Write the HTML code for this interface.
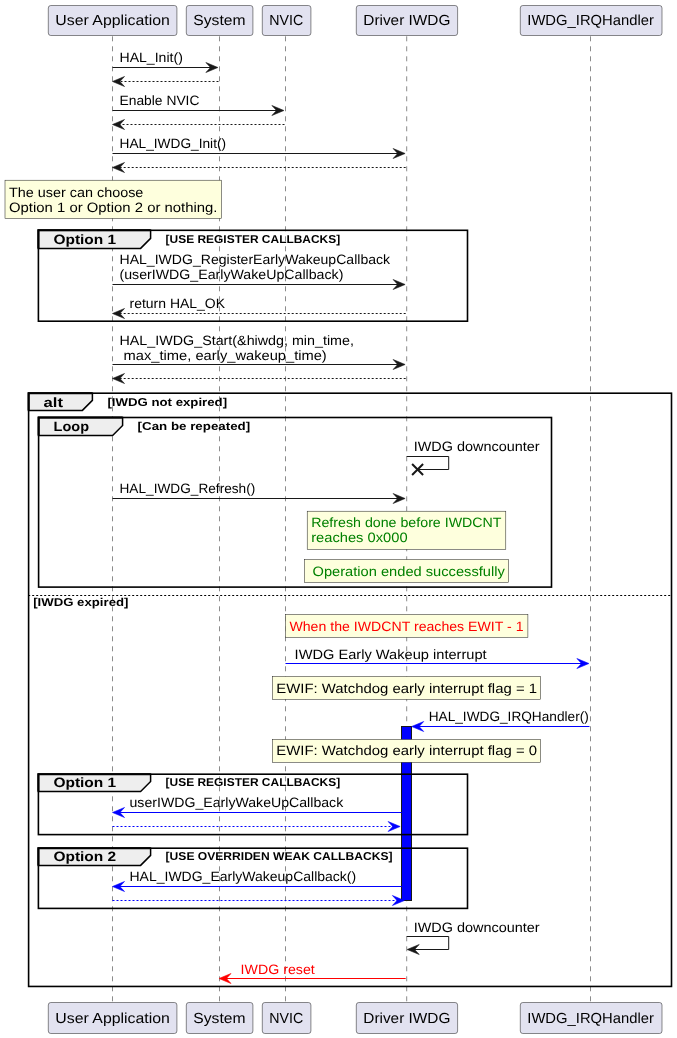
<!DOCTYPE html>
<html><head><meta charset="utf-8"><title>IWDG sequence</title>
<style>html,body{margin:0;padding:0;background:#fff}svg{display:block;will-change:transform}</style>
</head><body>
<svg width="677" height="1038" viewBox="0 0 677 1038" font-family="'Liberation Sans', sans-serif" text-rendering="geometricPrecision">
<rect width="677" height="1038" fill="#fff"/>
<line x1="112.5" y1="36.3" x2="112.5" y2="1002.3" stroke="#181818" stroke-width="0.5" stroke-dasharray="5,5"/>
<line x1="219.5" y1="36.3" x2="219.5" y2="1002.3" stroke="#181818" stroke-width="0.5" stroke-dasharray="5,5"/>
<line x1="285.5" y1="36.3" x2="285.5" y2="1002.3" stroke="#181818" stroke-width="0.5" stroke-dasharray="5,5"/>
<line x1="406.7" y1="36.3" x2="406.7" y2="1002.3" stroke="#181818" stroke-width="0.5" stroke-dasharray="5,5"/>
<line x1="590.5" y1="36.3" x2="590.5" y2="1002.3" stroke="#181818" stroke-width="0.5" stroke-dasharray="5,5"/>
<rect x="401.5" y="726.5" width="10" height="174" fill="#0000FF" stroke="#181818" stroke-width="1"/>
<rect x="48.3" y="5.5" width="128.60" height="30" rx="2.5" ry="2.5" fill="#E2E2F0" stroke="#181818" stroke-width="0.5"/>
<text x="55.30" y="25.00" font-size="14.56" fill="#000" textLength="114.58" lengthAdjust="spacingAndGlyphs">User Application</text>
<rect x="48.3" y="1002.5" width="128.60" height="31" rx="2.5" ry="2.5" fill="#E2E2F0" stroke="#181818" stroke-width="0.5"/>
<text x="55.30" y="1023.00" font-size="14.56" fill="#000" textLength="114.58" lengthAdjust="spacingAndGlyphs">User Application</text>
<rect x="186.3" y="5.5" width="66.60" height="30" rx="2.5" ry="2.5" fill="#E2E2F0" stroke="#181818" stroke-width="0.5"/>
<text x="193.30" y="25.00" font-size="14.56" fill="#000" textLength="52.21" lengthAdjust="spacingAndGlyphs">System</text>
<rect x="186.3" y="1002.5" width="66.60" height="31" rx="2.5" ry="2.5" fill="#E2E2F0" stroke="#181818" stroke-width="0.5"/>
<text x="193.30" y="1023.00" font-size="14.56" fill="#000" textLength="52.21" lengthAdjust="spacingAndGlyphs">System</text>
<rect x="262.3" y="5.5" width="48.60" height="30" rx="2.5" ry="2.5" fill="#E2E2F0" stroke="#181818" stroke-width="0.5"/>
<text x="269.30" y="25.00" font-size="14.56" fill="#000" textLength="33.95" lengthAdjust="spacingAndGlyphs">NVIC</text>
<rect x="262.3" y="1002.5" width="48.60" height="31" rx="2.5" ry="2.5" fill="#E2E2F0" stroke="#181818" stroke-width="0.5"/>
<text x="269.30" y="1023.00" font-size="14.56" fill="#000" textLength="33.95" lengthAdjust="spacingAndGlyphs">NVIC</text>
<rect x="356.3" y="5.5" width="101.30" height="30" rx="2.5" ry="2.5" fill="#E2E2F0" stroke="#181818" stroke-width="0.5"/>
<text x="363.30" y="25.00" font-size="14.56" fill="#000" textLength="87.13" lengthAdjust="spacingAndGlyphs">Driver IWDG</text>
<rect x="356.3" y="1002.5" width="101.30" height="31" rx="2.5" ry="2.5" fill="#E2E2F0" stroke="#181818" stroke-width="0.5"/>
<text x="363.30" y="1023.00" font-size="14.56" fill="#000" textLength="87.13" lengthAdjust="spacingAndGlyphs">Driver IWDG</text>
<rect x="520.3" y="5.5" width="141.70" height="30" rx="2.5" ry="2.5" fill="#E2E2F0" stroke="#181818" stroke-width="0.5"/>
<text x="527.30" y="25.00" font-size="14.56" fill="#000" textLength="126.60" lengthAdjust="spacingAndGlyphs">IWDG_IRQHandler</text>
<rect x="520.3" y="1002.5" width="141.70" height="31" rx="2.5" ry="2.5" fill="#E2E2F0" stroke="#181818" stroke-width="0.5"/>
<text x="527.30" y="1023.00" font-size="14.56" fill="#000" textLength="126.60" lengthAdjust="spacingAndGlyphs">IWDG_IRQHandler</text>
<text x="119.50" y="62.36" font-size="13.52" fill="#000" textLength="63.34" lengthAdjust="spacingAndGlyphs">HAL_Init()</text>
<polygon points="205.9,62.5 217.9,67.5 205.9,72.5 210.5,67.5" fill="#181818" stroke="#181818" stroke-width="0.6"/>
<line x1="112.5" y1="67.5" x2="213.9" y2="67.5" stroke="#181818" stroke-width="1"/>
<polygon points="124.5,76.5 112.5,81.5 124.5,86.5 119.9,81.5" fill="#181818" stroke="#181818" stroke-width="0.6"/>
<line x1="218.5" y1="81.5" x2="116.5" y2="81.5" stroke="#181818" stroke-width="1" stroke-dasharray="2,2"/>
<text x="119.50" y="105.00" font-size="13.52" fill="#000" textLength="79.94" lengthAdjust="spacingAndGlyphs">Enable NVIC</text>
<polygon points="271.9,105.5 283.9,110.5 271.9,115.5 276.5,110.5" fill="#181818" stroke="#181818" stroke-width="0.6"/>
<line x1="112.5" y1="110.5" x2="279.9" y2="110.5" stroke="#181818" stroke-width="1"/>
<polygon points="124.5,119.5 112.5,124.5 124.5,129.5 119.9,124.5" fill="#181818" stroke="#181818" stroke-width="0.6"/>
<line x1="284.5" y1="124.5" x2="116.5" y2="124.5" stroke="#181818" stroke-width="1" stroke-dasharray="2,2"/>
<text x="119.50" y="148.40" font-size="13.52" fill="#000" textLength="106.61" lengthAdjust="spacingAndGlyphs">HAL_IWDG_Init()</text>
<polygon points="393.09999999999997,148.5 405.09999999999997,153.5 393.09999999999997,158.5 397.7,153.5" fill="#181818" stroke="#181818" stroke-width="0.6"/>
<line x1="112.5" y1="153.5" x2="401.09999999999997" y2="153.5" stroke="#181818" stroke-width="1"/>
<polygon points="124.5,162.5 112.5,167.5 124.5,172.5 119.9,167.5" fill="#181818" stroke="#181818" stroke-width="0.6"/>
<line x1="405.7" y1="167.5" x2="116.5" y2="167.5" stroke="#181818" stroke-width="1" stroke-dasharray="2,2"/>
<rect x="5" y="180.2" width="216.50" height="38.20" fill="#FEFFDD" stroke="#181818" stroke-width="0.5"/>
<text x="9.00" y="197.00" font-size="13.52" fill="#000" textLength="134.35" lengthAdjust="spacingAndGlyphs">The user can choose</text>
<text x="9.00" y="212.10" font-size="13.52" fill="#000" textLength="208.47" lengthAdjust="spacingAndGlyphs">Option 1 or Option 2 or nothing.</text>
<polygon points="38.4,230.3 150.6,230.3 150.6,238.40 140.6,248.4 38.4,248.4" fill="#EEEEEE" stroke="#000" stroke-width="1.5"/>
<rect x="38.4" y="230.3" width="429.10" height="90.90" fill="none" stroke="#000" stroke-width="1.6"/>
<path d="M38.4,248.4 V230.3 H150.6" fill="none" stroke="#000" stroke-width="2"/>
<text x="53.40" y="244.00" font-size="13.52" font-weight="bold" fill="#000" textLength="62.78" lengthAdjust="spacingAndGlyphs">Option 1</text>
<text x="165.60" y="243.10" font-size="11.44" font-weight="bold" fill="#000" textLength="174.62" lengthAdjust="spacingAndGlyphs">[USE REGISTER CALLBACKS]</text>
<text x="119.50" y="264.00" font-size="13.52" fill="#000" textLength="270.62" lengthAdjust="spacingAndGlyphs">HAL_IWDG_RegisterEarlyWakeupCallback</text>
<text x="119.50" y="279.20" font-size="13.52" fill="#000" textLength="223.88" lengthAdjust="spacingAndGlyphs">(userIWDG_EarlyWakeUpCallback)</text>
<polygon points="393.09999999999997,279.5 405.09999999999997,284.5 393.09999999999997,289.5 397.7,284.5" fill="#181818" stroke="#181818" stroke-width="0.6"/>
<line x1="112.5" y1="284.5" x2="401.09999999999997" y2="284.5" stroke="#181818" stroke-width="1"/>
<text x="129.50" y="308.00" font-size="13.52" fill="#000" textLength="95.56" lengthAdjust="spacingAndGlyphs">return HAL_OK</text>
<polygon points="124.5,308.5 112.5,313.5 124.5,318.5 119.9,313.5" fill="#181818" stroke="#181818" stroke-width="0.6"/>
<line x1="405.7" y1="313.5" x2="116.5" y2="313.5" stroke="#181818" stroke-width="1" stroke-dasharray="2,2"/>
<text x="119.50" y="345.00" font-size="13.52" fill="#000" textLength="234.42" lengthAdjust="spacingAndGlyphs">HAL_IWDG_Start(&amp;hiwdg, min_time,</text>
<text x="123.63" y="359.50" font-size="13.52" fill="#000" textLength="203.13" lengthAdjust="spacingAndGlyphs">max_time, early_wakeup_time)</text>
<polygon points="393.09999999999997,359.5 405.09999999999997,364.5 393.09999999999997,369.5 397.7,364.5" fill="#181818" stroke="#181818" stroke-width="0.6"/>
<line x1="112.5" y1="364.5" x2="401.09999999999997" y2="364.5" stroke="#181818" stroke-width="1"/>
<polygon points="124.5,373.5 112.5,378.5 124.5,383.5 119.9,378.5" fill="#181818" stroke="#181818" stroke-width="0.6"/>
<line x1="405.7" y1="378.5" x2="116.5" y2="378.5" stroke="#181818" stroke-width="1" stroke-dasharray="2,2"/>
<polygon points="28.6,393.2 92.4,393.2 92.4,400.40 82.4,410.4 28.6,410.4" fill="#EEEEEE" stroke="#000" stroke-width="1.5"/>
<rect x="28.6" y="393.2" width="642.90" height="593.25" fill="none" stroke="#000" stroke-width="1.6"/>
<path d="M28.6,410.4 V393.2 H92.4" fill="none" stroke="#000" stroke-width="2"/>
<text x="43.60" y="407.00" font-size="13.52" font-weight="bold" fill="#000" textLength="19.44" lengthAdjust="spacingAndGlyphs">alt</text>
<text x="107.40" y="406.10" font-size="11.44" font-weight="bold" fill="#000" textLength="119.71" lengthAdjust="spacingAndGlyphs">[IWDG not expired]</text>
<polygon points="38.6,417.5 122.6,417.5 122.6,425.50 112.6,435.5 38.6,435.5" fill="#EEEEEE" stroke="#000" stroke-width="1.5"/>
<rect x="38.6" y="417.5" width="512.90" height="169.60" fill="none" stroke="#000" stroke-width="1.6"/>
<path d="M38.6,435.5 V417.5 H122.6" fill="none" stroke="#000" stroke-width="2"/>
<text x="53.60" y="431.00" font-size="13.52" font-weight="bold" fill="#000" textLength="35.45" lengthAdjust="spacingAndGlyphs">Loop</text>
<text x="137.60" y="430.10" font-size="11.44" font-weight="bold" fill="#000" textLength="112.61" lengthAdjust="spacingAndGlyphs">[Can be repeated]</text>
<text x="413.70" y="450.60" font-size="13.52" fill="#000" textLength="126.00" lengthAdjust="spacingAndGlyphs">IWDG downcounter</text>
<path d="M406.7,456.5 H448.7 V469.5 H417.7" fill="none" stroke="#181818" stroke-width="1"/>
<path d="M412.09999999999997,464.0 l11,11 M412.09999999999997,475.0 l11,-11" fill="none" stroke="#181818" stroke-width="2"/>
<text x="119.50" y="493.30" font-size="13.52" fill="#000" textLength="135.79" lengthAdjust="spacingAndGlyphs">HAL_IWDG_Refresh()</text>
<polygon points="393.09999999999997,493.5 405.09999999999997,498.5 393.09999999999997,503.5 397.7,498.5" fill="#181818" stroke="#181818" stroke-width="0.6"/>
<line x1="112.5" y1="498.5" x2="401.09999999999997" y2="498.5" stroke="#181818" stroke-width="1"/>
<rect x="307.2" y="511.2" width="198.60" height="38.10" fill="#FEFFDD" stroke="#181818" stroke-width="0.5"/>
<text x="311.20" y="527.00" font-size="13.52" fill="#008000" textLength="190.37" lengthAdjust="spacingAndGlyphs">Refresh done before IWDCNT</text>
<text x="311.20" y="541.50" font-size="13.52" fill="#008000" textLength="96.38" lengthAdjust="spacingAndGlyphs">reaches 0x000</text>
<rect x="304.4" y="559.5" width="204.20" height="22.90" fill="#FEFFDD" stroke="#181818" stroke-width="0.5"/>
<text x="312.53" y="575.60" font-size="13.52" fill="#008000" textLength="192.28" lengthAdjust="spacingAndGlyphs">Operation ended successfully</text>
<line x1="28.2" y1="595.5" x2="671.5" y2="595.5" stroke="#000" stroke-width="1" stroke-dasharray="2,2"/>
<text x="33.20" y="605.60" font-size="11.44" font-weight="bold" fill="#000" textLength="95.23" lengthAdjust="spacingAndGlyphs">[IWDG expired]</text>
<rect x="285.4" y="614.4" width="242.50" height="23.00" fill="#FEFFDD" stroke="#181818" stroke-width="0.5"/>
<text x="289.40" y="631.00" font-size="13.52" fill="#FF0000" textLength="234.17" lengthAdjust="spacingAndGlyphs">When the IWDCNT reaches EWIT - 1</text>
<text x="294.63" y="659.30" font-size="13.52" fill="#000" textLength="192.06" lengthAdjust="spacingAndGlyphs">IWDG Early Wakeup interrupt</text>
<polygon points="576.9,658.5 588.9,663.5 576.9,668.5 581.5,663.5" fill="#0000FF" stroke="#0000FF" stroke-width="0.6"/>
<line x1="285.5" y1="663.5" x2="584.9" y2="663.5" stroke="#0000FF" stroke-width="1"/>
<rect x="272.3" y="676.4" width="268.30" height="22.90" fill="#FEFFDD" stroke="#181818" stroke-width="0.5"/>
<text x="276.30" y="693.00" font-size="13.52" fill="#000" textLength="260.72" lengthAdjust="spacingAndGlyphs">EWIF: Watchdog early interrupt flag = 1</text>
<text x="428.70" y="720.50" font-size="13.52" fill="#000" textLength="160.11" lengthAdjust="spacingAndGlyphs">HAL_IWDG_IRQHandler()</text>
<polygon points="423.7,721.5 411.7,726.5 423.7,731.5 419.09999999999997,726.5" fill="#0000FF" stroke="#0000FF" stroke-width="0.6"/>
<line x1="589.5" y1="726.5" x2="415.7" y2="726.5" stroke="#0000FF" stroke-width="1"/>
<rect x="272.3" y="739.4" width="268.30" height="22.90" fill="#FEFFDD" stroke="#181818" stroke-width="0.5"/>
<text x="276.30" y="755.00" font-size="13.52" fill="#000" textLength="260.72" lengthAdjust="spacingAndGlyphs">EWIF: Watchdog early interrupt flag = 0</text>
<polygon points="38.4,774.2 150.6,774.2 150.6,781.50 140.6,791.5 38.4,791.5" fill="#EEEEEE" stroke="#000" stroke-width="1.5"/>
<rect x="38.4" y="774.2" width="429.10" height="60.40" fill="none" stroke="#000" stroke-width="1.6"/>
<path d="M38.4,791.5 V774.2 H150.6" fill="none" stroke="#000" stroke-width="2"/>
<text x="53.40" y="787.00" font-size="13.52" font-weight="bold" fill="#000" textLength="62.78" lengthAdjust="spacingAndGlyphs">Option 1</text>
<text x="165.60" y="786.10" font-size="11.44" font-weight="bold" fill="#000" textLength="174.62" lengthAdjust="spacingAndGlyphs">[USE REGISTER CALLBACKS]</text>
<text x="129.50" y="807.20" font-size="13.52" fill="#000" textLength="213.73" lengthAdjust="spacingAndGlyphs">userIWDG_EarlyWakeUpCallback</text>
<polygon points="124.5,807.5 112.5,812.5 124.5,817.5 119.9,812.5" fill="#0000FF" stroke="#0000FF" stroke-width="0.6"/>
<line x1="401.7" y1="812.5" x2="116.5" y2="812.5" stroke="#0000FF" stroke-width="1"/>
<polygon points="388.09999999999997,821.5 400.09999999999997,826.5 388.09999999999997,831.5 392.7,826.5" fill="#0000FF" stroke="#0000FF" stroke-width="0.6"/>
<line x1="112.5" y1="826.5" x2="396.09999999999997" y2="826.5" stroke="#0000FF" stroke-width="1" stroke-dasharray="2,2"/>
<polygon points="38.4,848.2 150.6,848.2 150.6,855.40 140.6,865.4 38.4,865.4" fill="#EEEEEE" stroke="#000" stroke-width="1.5"/>
<rect x="38.4" y="848.2" width="429.10" height="60.20" fill="none" stroke="#000" stroke-width="1.6"/>
<path d="M38.4,865.4 V848.2 H150.6" fill="none" stroke="#000" stroke-width="2"/>
<text x="53.40" y="861.00" font-size="13.52" font-weight="bold" fill="#000" textLength="62.78" lengthAdjust="spacingAndGlyphs">Option 2</text>
<text x="165.60" y="860.10" font-size="11.44" font-weight="bold" fill="#000" textLength="226.88" lengthAdjust="spacingAndGlyphs">[USE OVERRIDEN WEAK CALLBACKS]</text>
<text x="129.50" y="881.30" font-size="13.52" fill="#000" textLength="226.66" lengthAdjust="spacingAndGlyphs">HAL_IWDG_EarlyWakeupCallback()</text>
<polygon points="124.5,881.5 112.5,886.5 124.5,891.5 119.9,886.5" fill="#0000FF" stroke="#0000FF" stroke-width="0.6"/>
<line x1="401.7" y1="886.5" x2="116.5" y2="886.5" stroke="#0000FF" stroke-width="1"/>
<polygon points="392.4,895.5 404.4,900.5 392.4,905.5 397.0,900.5" fill="#0000FF" stroke="#0000FF" stroke-width="0.6"/>
<line x1="112.5" y1="900.5" x2="400.4" y2="900.5" stroke="#0000FF" stroke-width="1" stroke-dasharray="2,2"/>
<text x="413.70" y="932.30" font-size="13.52" fill="#000" textLength="126.00" lengthAdjust="spacingAndGlyphs">IWDG downcounter</text>
<path d="M406.7,936.5 H448.7 V949.5 H411.7" fill="none" stroke="#181818" stroke-width="1"/>
<polygon points="419.2,944.5 407.2,949.5 419.2,954.5 414.59999999999997,949.5" fill="#181818" stroke="#181818" stroke-width="0.6"/>
<text x="240.63" y="974.00" font-size="13.52" fill="#FF0000" textLength="74.12" lengthAdjust="spacingAndGlyphs">IWDG reset</text>
<polygon points="231.0,973.5 219.0,978.5 231.0,983.5 226.4,978.5" fill="#FF0000" stroke="#FF0000" stroke-width="0.6"/>
<line x1="405.7" y1="978.5" x2="223.0" y2="978.5" stroke="#FF0000" stroke-width="1"/>
</svg>
</body></html>
